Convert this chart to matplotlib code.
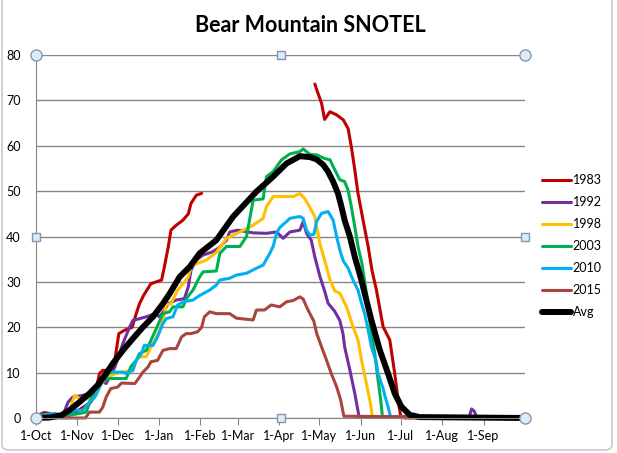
import numpy as np
import matplotlib
matplotlib.use("Agg")
import matplotlib.pyplot as plt
from matplotlib.patches import FancyBboxPatch

plt.rcParams['font.family'] = ['Lato', 'DejaVu Sans']

# days since 1-Oct, SWE (inches)
nan = np.nan
d1983 = [0, 3, 6, 10, 14, 20, 28, 36, 41, 44, 47.5, 50, 54, 59, 62, 66, 72, 75, 77.5, 80.5, 86, 94, 96, 99, 101, 105, 110, 114, 116, 120, 124,
         166,
         208.7, 211, 213.7, 216, 220, 225, 230, 233.6, 236, 238.6, 241, 244.8, 248.6, 251.5, 254.8, 259.8, 264.8, 268.5, 271, 273, 276, 366]
v1983 = [0, 0.8, 1.2, 1.0, 0.5, 0.4, 1.0, 2.5, 3.5, 5, 9.8, 10.5, 10.5, 12.7, 18.6, 19.3, 20, 23, 25.2, 27, 29.6, 30.4, 33.2, 37.7, 41.4, 42.5, 43.6, 45, 47.3, 49.1, 49.5,
         nan,
         73.6, 71.6, 69.4, 65.8, 67.5, 66.8, 65.7, 63.8, 59.8, 54.7, 49.5, 43.6, 37.8, 32.5, 28.2, 20.1, 17.2, 9.8, 4, 0.3, 0, 0]

d1992 = [0, 10, 20, 24, 27.5, 35, 41, 45, 47.5, 52.5, 55, 59, 65, 70, 72.5, 82.5, 89, 92.5, 96, 99, 105, 111, 114, 116, 120, 125, 132, 137,
         142.6, 145, 151, 162.5, 172.5, 180, 185, 190, 197.5, 200, 202.5, 206, 208.7, 212.4, 216, 218.6, 223.6, 227.4, 229.8, 231, 234.9,
         238.6, 241.8, 324, 326, 328, 330, 366]
v1992 = [0, 0.3, 0.5, 3.5, 4.6, 5, 5.4, 6, 8.3, 7.6, 9, 11.2, 16.4, 20, 21.5, 22.3, 23, 22.3, 23.7, 25.2, 26, 26.3, 28.9, 32.6, 34.8, 35.9, 36.6, 37.5,
         39.2, 41, 41.4, 40.8, 40.7, 41, 39.6, 41, 41.4, 43.3, 40.7, 39.2, 35.5, 31.3, 28, 25.3, 23.5, 21.5, 18.5, 15.7, 10.6,
         5.4, 0.3, 0, 2, 1.5, 0, 0]

d1998 = [0, 10, 20, 25, 29, 32.5, 37.5, 41, 45, 47.5, 52.5, 60, 72.7, 75, 77.5, 82.5, 86, 89, 92.5, 95, 97.5, 101, 106, 110, 114, 116, 120,
         127.5, 135, 142.6, 152.6, 162.5, 170, 172.5, 177.5, 192.5, 197.5, 201, 205, 208.7, 210, 212.4, 216, 220, 223.6, 227.4, 232.4,
         237.3, 241, 243.6, 247.3, 250.3, 251.8, 366]
v1998 = [0, 0.3, 0.5, 1.7, 5, 4.3, 4.3, 3.9, 5, 6.8, 9, 9.8, 10.6, 12.7, 13.5, 13.5, 15.7, 17.1, 19.3, 21.5, 24.9, 25.2, 28.2, 29.6, 31.1, 33.3, 34,
         34.8, 36.5, 39.6, 41, 42.5, 44, 46.6, 48.8, 48.8, 49.5, 48.4, 46.4, 44.4, 42.2, 38.5, 34.8, 30.5, 28, 27.5, 24.5,
         20.1, 17.2, 12.8, 7.6, 3.2, 0.3, 0]

d2003 = [0, 10, 20, 32.5, 37.5, 40, 44, 50, 55, 67.5, 71, 75, 77.5, 82.5, 86, 90, 95, 100, 102.5, 110, 112.5, 117.5, 122.5, 125, 135,
         137.6, 142.6, 152.6, 157.6, 162.5, 170, 172.5, 177.5, 183.8, 190, 197.5, 200, 205, 210, 216, 220, 223.6, 227.4, 231, 233.6,
         236, 238.6, 241, 244, 247.3, 250.3, 253.5, 256, 258, 259.3, 366]
v2003 = [0.5, 0.2, 0.3, 1, 1.3, 3.2, 6.8, 8.3, 8.7, 8.7, 11.3, 12.7, 14.2, 14.9, 17.1, 19.7, 23, 23.4, 24.5, 24.5, 26.3, 28.2, 31.1, 32.2, 32.4,
         36.3, 37.8, 37.8, 40, 48, 48.3, 53.2, 54.3, 56.9, 58.2, 58.7, 59.3, 58.1, 58, 57.2, 56.9, 54.7, 52.5, 52.1, 50.2,
         46.6, 42.2, 37.8, 34, 27.5, 20.1, 14.3, 8.4, 4, 0.3, 0]

d2010 = [0, 14, 20, 30, 35, 39, 44, 50, 55, 65, 67.5, 72.5, 75, 79, 81, 87.5, 91, 95, 97.5, 102.5, 106, 110, 117.5, 122.5, 130, 135,
         137.6, 145, 150, 157.6, 165, 170, 175, 177.5, 180, 182.5, 187.5, 190, 197.5, 200, 202.5, 205, 208, 210, 213.7, 218.6, 222.4,
         225, 227.4, 230, 233.6, 237.3, 241, 243.6, 246, 248.6, 251, 254.3, 256, 259.8, 261, 263.5, 265.3, 366]
v2010 = [0.5, 1, 0.6, 1.7, 1.7, 3.2, 4.6, 8.3, 10.1, 10.1, 9.8, 10.5, 12.7, 14.2, 16, 16, 17.9, 20.8, 21.9, 22.3, 24.9, 25.6, 26, 27, 28.2, 29.3,
         30.4, 30.8, 31.5, 31.9, 33, 33.7, 36.3, 37.8, 40.7, 42, 43.3, 44, 44.4, 44, 41.4, 40.3, 40.5, 43.3, 45.1, 45.5, 43.6,
         40, 37, 34.6, 33, 30.4, 28.2, 25.3, 23, 19.4, 15.7, 12.8, 9.8, 6.5, 5, 2.5, 0.3, 0]

d2015 = [0, 37, 40, 47.5, 50, 52.5, 56, 61, 64, 74, 77.5, 80, 84, 86, 91, 95, 100, 105, 109, 112.5, 116, 121, 124, 126, 130, 135, 145,
         150, 162.5, 165, 171, 176, 182.5, 187.5, 192.5, 197.5, 200, 202.5, 205, 208, 210, 213.7, 217.4, 221, 225, 228, 230.4, 366]
v2015 = [0, 0, 1.3, 1.3, 2.4, 4.6, 6.5, 6.8, 7.7, 7.6, 9, 10.1, 11.3, 12.4, 12.7, 14.9, 15.3, 15.3, 17.9, 18.6, 18.6, 19, 20, 22.3, 23.4, 23, 23,
         22, 21.6, 23.8, 23.8, 24.9, 24.5, 25.6, 25.9, 26.7, 26.2, 24.5, 23, 21.3, 18.7, 15.7, 12.8, 9.8, 6.9, 4, 0.4, 0]

d_avg = [0, 10, 19, 25, 32.5, 40, 46, 52.5, 57.5, 65, 72.5, 80, 87.5, 95, 100, 107.5, 115, 122.5, 135, 147.6, 165, 177.5, 187.5, 197.5,
         205, 210, 215, 218.6, 222.4, 226, 228.6, 231, 234.9, 238.6, 243, 246, 251, 257.3, 263.5, 268.5, 273.5, 279.7, 287, 366]
v_avg = [0, 0.1, 0.6, 1.7, 3.5, 5.4, 7.2, 9.8, 12, 14.9, 17.5, 20, 22.3, 25.2, 27.4, 31.1, 33.3, 36.3, 39.2, 44.4, 49.9, 53.2, 56.1, 57.7,
         57.5, 57, 55.8, 54.3, 52.1, 49.5, 46.6, 43.6, 40, 35.5, 31, 27.5, 21.6, 15, 9.8, 5.4, 2.5, 0.7, 0.2, 0]

month_days = [0, 31, 61, 92, 123, 151, 182, 212, 243, 273, 304, 335]
month_labels = ['1-Oct', '1-Nov', '1-Dec', '1-Jan', '1-Feb', '1-Mar', '1-Apr', '1-May', '1-Jun', '1-Jul', '1-Aug', '1-Sep']

series = [
    ('1983', d1983, v1983, '#C00000', 2.2),
    ('1992', d1992, v1992, '#7030A0', 2.2),
    ('1998', d1998, v1998, '#FFC000', 2.2),
    ('2003', d2003, v2003, '#00B050', 2.2),
    ('2010', d2010, v2010, '#00B0F0', 2.2),
    ('2015', d2015, v2015, '#A9453F', 2.2),
    ('Avg', d_avg, v_avg, '#000000', 4.3),
]

fig = plt.figure(figsize=(6.17, 4.53), dpi=100)
ax = fig.add_axes([36 / 617, 1 - 418 / 453, (525 - 36) / 617, (418 - 55) / 453])

for name, d, v, c, lw in series:
    ax.plot(d, v, color=c, lw=lw, label=name, solid_capstyle='round', solid_joinstyle='round', clip_on=False)

ax.set_xlim(0, 366)
ax.set_ylim(0, 80)
ax.set_yticks(range(0, 81, 10))
ax.set_xticks(month_days)
ax.set_xticklabels(month_labels)
ax.yaxis.grid(True, color='#868686', lw=1)
ax.set_axisbelow(True)
ax.tick_params(axis='y', length=0, pad=11, labelsize=9)
ax.tick_params(axis='x', length=5, color='#868686', pad=4, labelsize=9)
for s in ['top', 'right']:
    ax.spines[s].set_visible(False)
for s in ['left', 'bottom']:
    ax.spines[s].set_color('#868686')

fig.text(0.503, 1 - 26 / 453, 'Bear Mountain SNOTEL', ha='center', va='center',
         fontsize=15.5, fontweight='bold')

fig.legend(loc='center left', bbox_to_anchor=(542 / 617, 1 - 246 / 453), frameon=False,
           fontsize=9, handlelength=2.3, handletextpad=0.15, labelspacing=0.8,
           borderpad=0, borderaxespad=0)

# selection handles around the plot area
hx = [0, 0.5, 1]
for px in hx:
    for py in hx:
        if px == 0.5 and py == 0.5:
            continue
        corner = px != 0.5 and py != 0.5
        ax.plot([px], [py], transform=ax.transAxes, marker='o' if corner else 's',
                ms=8 if corner else 6, mfc='#dcecf6', mec='#8497b0', mew=1,
                clip_on=False, zorder=20)

fig.patches.append(FancyBboxPatch((2 / 617, 3 / 453), 610 / 617, 460 / 453,
                                  boxstyle='round,pad=0,rounding_size=0.012',
                                  transform=fig.transFigure, fill=False,
                                  edgecolor='#bfbfbf', lw=1))

fig.savefig('out.png', dpi=100)
